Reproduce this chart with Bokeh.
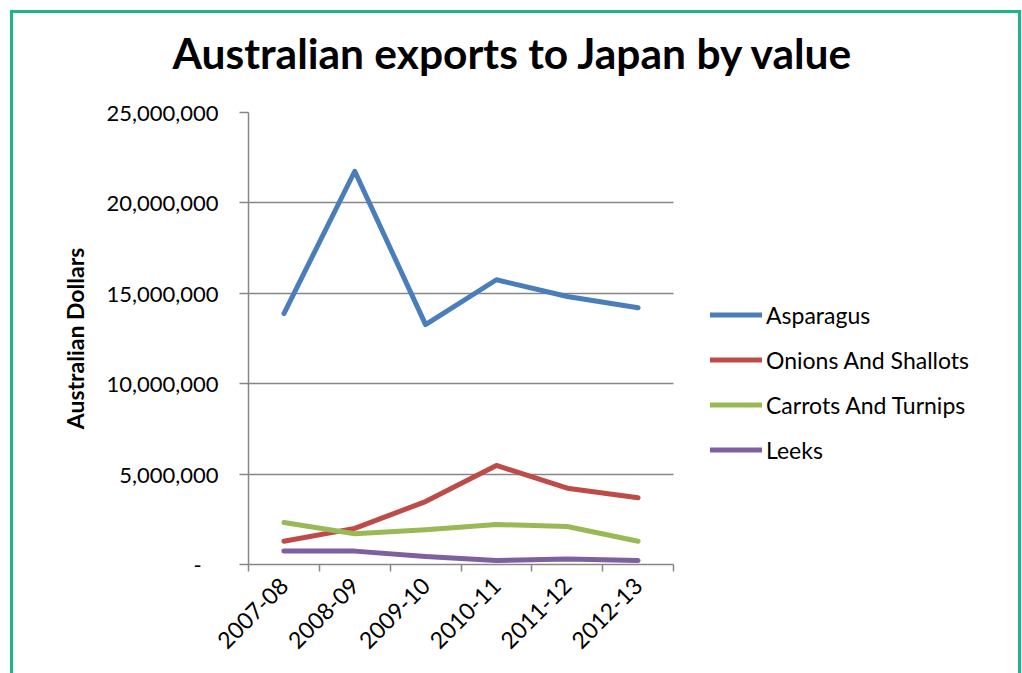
from math import pi
from bokeh.plotting import figure
from bokeh.models import (FixedTicker, NumeralTickFormatter, Legend, LegendItem,
                          ColumnDataSource, Range1d, InlineStyleSheet, Grid, Title)
from bokeh.embed import file_html
from bokeh.resources import INLINE

title = "Australian exports to Japan by value"
y_label = "Australian Dollars"
years = ["2007-08", "2008-09", "2009-10", "2010-11", "2011-12", "2012-13"]
asparagus = [13880000, 21750000, 13270000, 15750000, 14820000, 14200000]
onions = [1290000, 2000000, 3480000, 5480000, 4220000, 3690000]
carrots = [2320000, 1700000, 1920000, 2210000, 2100000, 1290000]
leeks = [740000, 740000, 440000, 220000, 310000, 220000]
series_names = ["Asparagus", "Onions And Shallots", "Carrots And Turnips", "Leeks"]
colors = ["#4A7EBB", "#BE4B48", "#98B954", "#7D60A0"]
y_ticks = [0, 5000000, 10000000, 15000000, 20000000, 25000000]

FONT = "Lato"
GRAY = "#868686"

n = len(years)
xs = [i + 0.5 for i in range(n)]
# plot area spans 425 px for the categories; the frame continues to the right
# (770 px wide) to host the legend
x_end = n * 770 / 425

p = figure(width=1005, height=660, output_backend="svg", toolbar_location=None,
           x_range=Range1d(0, x_end), y_range=Range1d(0, 25000000),
           min_border_left=235, min_border_right=0, min_border_top=99,
           min_border_bottom=109, margin=(13, 0, 0, 13))
p.stylesheets = [InlineStyleSheet(css=":host { outline: 3px solid #1BB58A; }")]
p.outline_line_color = None
p.background_fill_color = "white"
p.border_fill_color = "white"

# main title (outermost panel)
p.title.text = title
p.title.text_font = FONT
p.title.text_font_size = "42.5px"
p.title.text_font_style = "bold"
p.title.text_color = "black"
p.title.align = "left"
p.title.offset = -76
p.title.standoff = 0
# spacer between title and plot area
p.add_layout(Title(text=" ", text_font_size="1px", standoff=32), "above")

# grids
p.xgrid.visible = False
p.ygrid.grid_line_color = GRAY
p.ygrid.grid_line_width = 1.5
p.ygrid.ticker = FixedTicker(ticks=y_ticks)
if "cross_bounds" in Grid.properties():
    p.ygrid.cross_bounds = (0, n)
else:
    p.ygrid.visible = False
    p.segment(x0=0, x1=n, y0=y_ticks, y1=y_ticks, line_color=GRAY, line_width=1.5)

# y axis
p.yaxis.ticker = FixedTicker(ticks=y_ticks)
p.yaxis.formatter = NumeralTickFormatter(format="0,0")
p.yaxis.major_label_overrides = {0: "-\u00a0\u00a0\u00a0"}
p.yaxis.axis_line_color = GRAY
p.yaxis.axis_line_width = 1.5
p.yaxis.major_tick_line_color = GRAY
p.yaxis.major_tick_line_width = 1.5
p.yaxis.major_tick_out = 9
p.yaxis.major_tick_in = 0
p.yaxis.minor_tick_line_color = None
p.yaxis.major_label_text_font = FONT
p.yaxis.major_label_text_font_size = "22px"
p.yaxis.major_label_text_color = "black"
p.yaxis.major_label_standoff = 21
p.yaxis.axis_label = y_label
p.yaxis.axis_label_text_font = FONT
p.yaxis.axis_label_text_font_size = "23px"
p.yaxis.axis_label_text_font_style = "bold"
p.yaxis.axis_label_text_color = "black"
p.yaxis.axis_label_standoff = 14

# x axis
p.xaxis.bounds = (0, n)
p.xaxis.ticker = FixedTicker(ticks=xs, minor_ticks=list(range(n + 1)))
p.xaxis.major_label_overrides = {x: y for x, y in zip(xs, years)}
p.xaxis.axis_line_color = GRAY
p.xaxis.axis_line_width = 1.5
p.xaxis.major_tick_line_color = None
p.xaxis.minor_tick_line_color = GRAY
p.xaxis.minor_tick_line_width = 1.5
p.xaxis.minor_tick_out = 7
p.xaxis.minor_tick_in = 0
p.xaxis.major_label_orientation = pi / 4
p.xaxis.major_label_text_font = FONT
p.xaxis.major_label_text_font_size = "23px"
p.xaxis.major_label_text_color = "black"
p.xaxis.major_label_standoff = 10

items = []
for name, vals, c in zip(series_names, [asparagus, onions, carrots, leeks], colors):
    src = ColumnDataSource(dict(x=xs, y=vals))
    r = p.line("x", "y", source=src, line_color=c, line_width=5,
               line_join="round", line_cap="round")
    items.append(LegendItem(label=name, renderers=[r]))

legend = Legend(items=items, location=(462, 92), orientation="vertical",
                label_text_font=FONT, label_text_font_size="23px",
                label_text_color="black", glyph_width=52, glyph_height=45,
                label_standoff=4, spacing=0, padding=0, margin=0,
                border_line_color=None, background_fill_alpha=0)
p.add_layout(legend, "center")

open("out.html", "w").write(file_html(p, INLINE))
